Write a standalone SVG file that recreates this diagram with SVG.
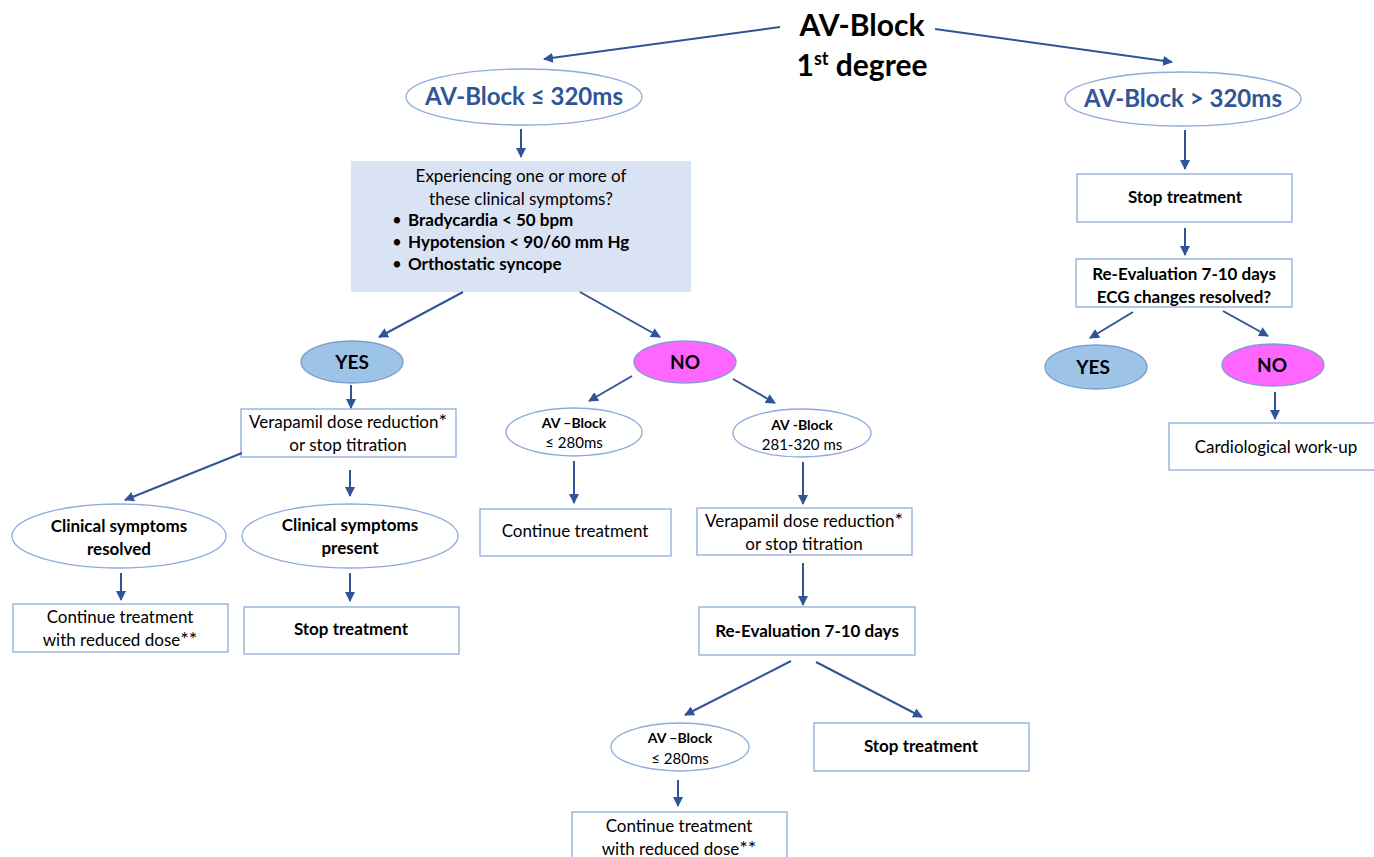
<svg xmlns="http://www.w3.org/2000/svg" width="1374" height="857" viewBox="0 0 1374 857">
<defs>
<marker id="ah" viewBox="0 0 10 10" refX="9" refY="5" markerWidth="5" markerHeight="5" orient="auto" markerUnits="strokeWidth">
<path d="M0,0 L10,5 L0,10 z" fill="#2F5597"/>
</marker>
<style>
text{font-family:Lato,"Open Sans","Liberation Sans",sans-serif;fill:#000;text-anchor:middle}
.b{font-weight:bold}
.box{fill:#fff;stroke:#8FAADC;stroke-width:1.3}
.ell{fill:#fff;stroke:#8FAADC;stroke-width:1.3}
.yes{fill:#9DC3E6;stroke:#7F9FCF;stroke-width:1.3}
.no{fill:#FF66FF;stroke:#7F9FCF;stroke-width:1.3}
.c line{stroke:#2F5597;stroke-width:2;marker-end:url(#ah)}
.t16{font-size:17px}
.t15{font-size:17px}
.l{text-anchor:start}
.blue{fill:#2F5597}
.ast{font-size:20px}
</style>
</defs>
<rect width="1374" height="857" fill="#fff"/>

<g id="title">
<text class="b" x="862" y="36" font-size="30">AV-Block</text>
<text class="b" x="862" y="76" font-size="30">1<tspan font-size="18" dy="-11">st</tspan><tspan dy="11"> degree</tspan></text>
</g>

<g id="n-le320">
<ellipse class="ell" cx="524" cy="97" rx="118" ry="28"/>
<text class="b blue" x="524" y="105" font-size="24">AV-Block ≤ 320ms</text>
</g>
<g id="n-gt320">
<ellipse class="ell" cx="1183" cy="99" rx="118" ry="27"/>
<text class="b blue" x="1183" y="107" font-size="24">AV-Block &gt; 320ms</text>
</g>

<g id="n-symptoms">
<rect x="351" y="161" width="340" height="131" fill="#DAE3F3"/>
<text class="t16" x="521" y="182">Experiencing one or more of</text>
<text class="t16" x="521" y="205">these clinical symptoms?</text>
<text class="t16 l" x="392" y="226">•</text>
<text class="t16 b l" x="408" y="226">Bradycardia &lt; 50 bpm</text>
<text class="t16 l" x="392" y="248">•</text>
<text class="t16 b l" x="408" y="248">Hypotension &lt; 90/60 mm Hg</text>
<text class="t16 l" x="392" y="270">•</text>
<text class="t16 b l" x="408" y="270">Orthostatic syncope</text>
</g>

<g id="n-yes1">
<ellipse class="yes" cx="352" cy="362" rx="51" ry="21"/>
<text class="b" x="352" y="369" font-size="19">YES</text>
</g>
<g id="n-no1">
<ellipse class="no" cx="685" cy="362" rx="51" ry="21"/>
<text class="b" x="685" y="369" font-size="19">NO</text>
</g>

<g id="n-vera1">
<rect class="box" x="241" y="409" width="215" height="48"/>
<text class="t16" x="348" y="428">Verapamil dose reduction<tspan class="ast">*</tspan></text>
<text class="t16" x="348" y="451">or stop titration</text>
</g>

<g id="n-resolved">
<ellipse class="ell" cx="119" cy="536" rx="107" ry="32"/>
<text class="t16 b" x="119" y="532">Clinical symptoms</text>
<text class="t16 b" x="119" y="555">resolved</text>
</g>
<g id="n-present">
<ellipse class="ell" cx="350" cy="536" rx="108" ry="32"/>
<text class="t16 b" x="350" y="531">Clinical symptoms</text>
<text class="t16 b" x="350" y="554">present</text>
</g>

<g id="n-cont1">
<rect class="box" x="13" y="604" width="215" height="48"/>
<text class="t15" x="120" y="623">Continue treatment</text>
<text class="t15" x="120" y="646">with reduced dose<tspan class="ast">**</tspan></text>
</g>
<g id="n-stop1">
<rect class="box" x="244" y="607" width="215" height="47"/>
<text class="t16 b" x="351" y="635">Stop treatment</text>
</g>

<g id="n-le280a">
<ellipse class="ell" cx="574" cy="432" rx="68" ry="24"/>
<text class="b" x="574" y="428" font-size="14">AV –Block</text>
<text x="574" y="448" font-size="15">≤ 280ms</text>
</g>
<g id="n-281">
<ellipse class="ell" cx="802" cy="433" rx="69" ry="24"/>
<text class="b" x="802" y="430" font-size="14">AV -Block</text>
<text x="802" y="450" font-size="15">281-320 ms</text>
</g>

<g id="n-cont2">
<rect class="box" x="480" y="509" width="191" height="47"/>
<text class="t15" x="575" y="537">Continue treatment</text>
</g>
<g id="n-vera2">
<rect class="box" x="697" y="508" width="215" height="47"/>
<text class="t16" x="804" y="527">Verapamil dose reduction<tspan class="ast">*</tspan></text>
<text class="t16" x="804" y="550">or stop titration</text>
</g>

<g id="n-reeval1">
<rect class="box" x="699" y="607" width="216" height="48"/>
<text class="t15 b" x="807" y="637">Re-Evaluation 7-10 days</text>
</g>

<g id="n-le280b">
<ellipse class="ell" cx="680" cy="747" rx="69" ry="24"/>
<text class="b" x="680" y="743" font-size="14">AV –Block</text>
<text x="680" y="764" font-size="15">≤ 280ms</text>
</g>
<g id="n-stop2">
<rect class="box" x="814" y="723" width="215" height="48"/>
<text class="t16 b" x="921" y="752">Stop treatment</text>
</g>
<g id="n-cont3">
<rect class="box" x="572" y="812" width="215" height="60"/>
<text class="t15" x="679" y="832">Continue treatment</text>
<text class="t15" x="679" y="855">with reduced dose<tspan class="ast">**</tspan></text>
</g>

<g id="n-stop3">
<rect class="box" x="1077" y="174" width="215" height="48"/>
<text class="t15 b" x="1185" y="203">Stop treatment</text>
</g>
<g id="n-reeval2">
<rect class="box" x="1076" y="259" width="216" height="48"/>
<text class="t15 b" x="1184" y="280">Re-Evaluation 7-10 days</text>
<text class="t15 b" x="1184" y="303">ECG changes resolved?</text>
</g>
<g id="n-yes2">
<ellipse class="yes" cx="1096" cy="367" rx="51" ry="22"/>
<text class="b" x="1093" y="374" font-size="19">YES</text>
</g>
<g id="n-no2">
<ellipse class="no" cx="1273" cy="365" rx="51" ry="21"/>
<text class="b" x="1272" y="372" font-size="19">NO</text>
</g>
<g id="n-cardio">
<rect class="box" x="1169" y="423" width="215" height="47"/>
<text class="t15" x="1276" y="453">Cardiological work-up</text>
</g>

<g id="connectors" class="c">
<line x1="780" y1="27" x2="544" y2="59"/>
<line x1="935" y1="29" x2="1172" y2="62"/>
<line x1="521" y1="129" x2="521" y2="157"/>
<line x1="463" y1="292" x2="379" y2="337"/>
<line x1="580" y1="292" x2="660" y2="337"/>
<line x1="351" y1="385" x2="351" y2="408"/>
<line x1="242" y1="453" x2="125" y2="500"/>
<line x1="350" y1="470" x2="350" y2="496"/>
<line x1="121" y1="573" x2="121" y2="600"/>
<line x1="350" y1="573" x2="350" y2="601"/>
<line x1="632" y1="376" x2="589" y2="401"/>
<line x1="733" y1="379" x2="775" y2="403"/>
<line x1="574" y1="461" x2="574" y2="503"/>
<line x1="803" y1="462" x2="803" y2="504"/>
<line x1="803" y1="563" x2="803" y2="605"/>
<line x1="791" y1="661" x2="685" y2="715"/>
<line x1="816" y1="662" x2="922" y2="717"/>
<line x1="678" y1="780" x2="678" y2="806"/>
<line x1="1185" y1="130" x2="1185" y2="169"/>
<line x1="1185" y1="228" x2="1185" y2="255"/>
<line x1="1133" y1="312" x2="1090" y2="338"/>
<line x1="1223" y1="311" x2="1268" y2="336"/>
<line x1="1275" y1="392" x2="1275" y2="419"/>
</g>
</svg>
